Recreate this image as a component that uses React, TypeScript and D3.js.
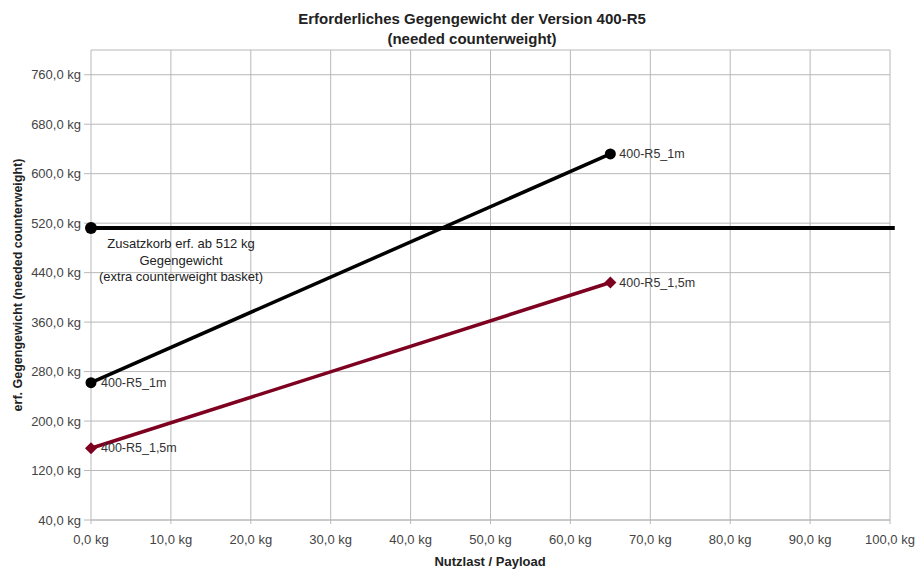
import React from "react";
import * as d3 from "d3";

const xTicks = [0, 10, 20, 30, 40, 50, 60, 70, 80, 90, 100];
const yTicks = [40, 120, 200, 280, 360, 440, 520, 600, 680, 760];
const series1mX = [0, 65];
const series1mY = [262, 632];
const series15mX = [0, 65];
const series15mY = [156, 424];
const basketX = [0, 100.6];
const basketY = [512, 512];
const series1mName = "400-R5_1m";
const series15mName = "400-R5_1,5m";
const titleLines = ["Erforderliches Gegengewicht der Version 400-R5", "(needed counterweight)"];
const yLabel = "erf. Gegengewicht (needed counterweight)";
const xLabel = "Nutzlast / Payload";
const noteLines = ["Zusatzkorb erf. ab 512 kg", "Gegengewicht", "(extra counterweight basket)"];

const W = 917, H = 569;
const L = 91, R = 890, T = 50, B = 520;
const fmt = (v: number) => v.toFixed(1).replace(".", ",") + " kg";

export default function App() {
  const x = d3.scaleLinear().domain([0, 100]).range([L, R]);
  const y = d3.scaleLinear().domain([40, 800]).range([B, T]);
  const line = d3.line<[number, number]>().x(d => x(d[0])).y(d => y(d[1]));
  const s1 = series1mX.map((v, i) => [v, series1mY[i]] as [number, number]);
  const s2 = series15mX.map((v, i) => [v, series15mY[i]] as [number, number]);
  const sb = basketX.map((v, i) => [v, basketY[i]] as [number, number]);
  const red = "#7e0021";
  const grid = "#b8b8b8";
  const font = "'Liberation Sans', Arial, sans-serif";
  const diamond = "M0,-6L6,0L0,6L-6,0Z";
  return (
    <svg width={W} height={H} style={{ position: "absolute", left: 0, top: 0, background: "#fff" }} fontFamily={font}>
      <rect x={0} y={0} width={W} height={H} fill="#fff" />
      {titleLines.map((t, i) => (
        <text key={i} x={472} y={24 + i * 20} textAnchor="middle" fontSize={15} fontWeight="bold" fill="#222">{t}</text>
      ))}
      {/* grid */}
      {xTicks.map(v => (
        <line key={"gx" + v} x1={x(v)} x2={x(v)} y1={T} y2={B + 4} stroke={grid} strokeWidth={1} />
      ))}
      {yTicks.map(v => (
        <line key={"gy" + v} x1={L - 7} x2={R} y1={y(v)} y2={y(v)} stroke={grid} strokeWidth={1} />
      ))}
      <line x1={L} x2={R} y1={T} y2={T} stroke={grid} />
      <line x1={L} x2={R} y1={B} y2={B} stroke={grid} />
      {/* tick labels */}
      {yTicks.map(v => (
        <text key={"ty" + v} x={81} y={y(v) + 4.5} textAnchor="end" fontSize={13} fill="#444">{fmt(v)}</text>
      ))}
      {xTicks.map(v => (
        <text key={"tx" + v} x={x(v)} y={544} textAnchor="middle" fontSize={13} fill="#444">{fmt(v)}</text>
      ))}
      <text x={490} y={566} textAnchor="middle" fontSize={13} fontWeight="bold" fill="#222">{xLabel}</text>
      <text transform={`translate(22,${(T + B) / 2}) rotate(-90)`} textAnchor="middle" fontSize={12.5} fontWeight="bold" fill="#222">{yLabel}</text>
      {/* series */}
      <path d={line(sb) || ""} fill="none" stroke="#000" strokeWidth={4} />
      <circle cx={x(basketX[0])} cy={y(basketY[0])} r={6} fill="#000" />
      <path d={line(s1) || ""} fill="none" stroke="#000" strokeWidth={3.5} />
      {s1.map((d, i) => <circle key={"c" + i} cx={x(d[0])} cy={y(d[1])} r={5.5} fill="#000" />)}
      <path d={line(s2) || ""} fill="none" stroke={red} strokeWidth={3.5} />
      {s2.map((d, i) => <path key={"d" + i} d={diamond} transform={`translate(${x(d[0])},${y(d[1])})`} fill={red} />)}
      {/* labels */}
      {s1.map((d, i) => (
        <text key={"l1" + i} x={x(d[0]) + (i === 0 ? 10 : 9)} y={y(d[1]) + 4} fontSize={12.5} fill="#333">{series1mName}</text>
      ))}
      {s2.map((d, i) => (
        <text key={"l2" + i} x={x(d[0]) + (i === 0 ? 10 : 9)} y={y(d[1]) + 4} fontSize={12.5} fill="#333">{series15mName}</text>
      ))}
      {noteLines.map((t, i) => (
        <text key={"n" + i} x={181} y={248 + i * 16.5} textAnchor="middle" fontSize={13} fill="#222">{t}</text>
      ))}
    </svg>
  );
}
